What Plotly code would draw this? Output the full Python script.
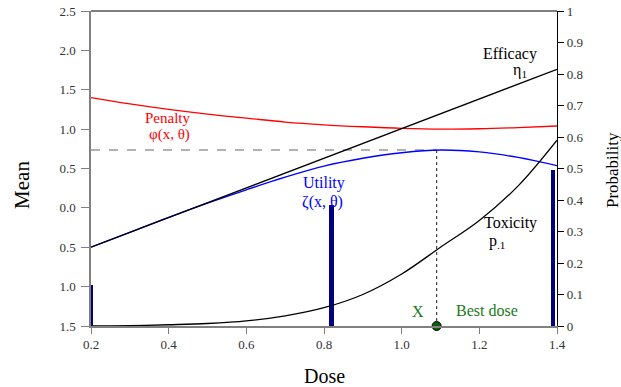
import plotly.graph_objects as go

# ---- data ----
dose = [0.2, 0.3, 0.4, 0.5, 0.6, 0.7, 0.8, 0.9, 1.0, 1.1, 1.2, 1.3, 1.4]
penalty_mean = [1.40, 1.32, 1.25, 1.19, 1.14, 1.09, 1.055, 1.03, 1.01, 1.00, 1.005, 1.02, 1.04]
utility_mean = [-0.50, -0.31, -0.12, 0.06, 0.23, 0.39, 0.53, 0.63, 0.70, 0.735, 0.71, 0.64, 0.535]
toxicity_prob = [0.0, 0.001, 0.004, 0.008, 0.016, 0.032, 0.058, 0.10, 0.165, 0.25, 0.335, 0.445, 0.59]
efficacy_dose = [0.2, 1.4]
efficacy_prob = [0.25, 0.815]
bar_dose = [0.2, 0.82, 1.39]
bar_prob = [0.13, 0.385, 0.495]
best_dose = 1.09
best_utility = 0.735

mean_ticks = [-1.5, -1.0, -0.5, 0.0, 0.5, 1.0, 1.5, 2.0, 2.5]
mean_ticktext = ["1.5", "1.0", "0.5", "0.0", "0.5", "1.0", "1.5", "2.0", "2.5"]
prob_ticks = [0, 0.1, 0.2, 0.3, 0.4, 0.5, 0.6, 0.7, 0.8, 0.9, 1.0]
prob_ticktext = ["0", "0.1", "0.2", "0.3", "0.4", "0.5", "0.6", "0.7", "0.8", "0.9", "1"]
dose_ticks = [0.2, 0.4, 0.6, 0.8, 1.0, 1.2, 1.4]
dose_ticktext = ["0.2", "0.4", "0.6", "0.8", "1.0", "1.2", "1.4"]

SERIF = "Liberation Serif, Times New Roman, serif"
GREEN = "#1a7a1a"

fig = go.Figure()

# reference lines at the best dose
fig.add_trace(go.Scatter(x=[dose[0], best_dose], y=[best_utility, best_utility], mode="lines",
                         line=dict(color="#666666", width=1, dash="dash"), yaxis="y", hoverinfo="skip"))
fig.add_trace(go.Scatter(x=[best_dose, best_dose], y=[best_utility, mean_ticks[0]], mode="lines",
                         line=dict(color="#444444", width=1.2, dash="dot"), yaxis="y", hoverinfo="skip"))

fig.add_trace(go.Scatter(x=dose, y=penalty_mean, mode="lines", line=dict(color="red", width=1.3, shape="spline"), yaxis="y"))
fig.add_trace(go.Scatter(x=dose, y=utility_mean, mode="lines", line=dict(color="blue", width=1.3, shape="spline"), yaxis="y"))
fig.add_trace(go.Scatter(x=efficacy_dose, y=efficacy_prob, mode="lines", line=dict(color="black", width=1.3), yaxis="y2"))
fig.add_trace(go.Scatter(x=dose, y=toxicity_prob, mode="lines", line=dict(color="black", width=1.3, shape="spline"), yaxis="y2"))

fig.add_trace(go.Bar(x=bar_dose, y=bar_prob, width=0.012, marker=dict(color="#000080", line=dict(width=0)), yaxis="y2"))

fig.add_trace(go.Scatter(x=[best_dose], y=[0], mode="markers", yaxis="y2", cliponaxis=False,
                         marker=dict(color="#0b5e0b", size=9, line=dict(color="black", width=1))))

def ann(x, y, text, color, size=16):
    fig.add_annotation(x=x, y=y, xref="x", yref="y", text=text, showarrow=False,
                       font=dict(family=SERIF, size=size, color=color))

ann(0.398, 1.14, "Penalty", "red", 15)
ann(0.403, 0.93, "φ(x, θ)", "red", 15)
ann(0.80, 0.31, "Utility", "blue")
ann(0.797, 0.07, "ζ(x, θ)", "blue")
ann(1.279, 1.96, "Efficacy", "black")
ann(1.305, 1.74, "η<sub>1</sub>", "black")
ann(1.279, -0.19, "Toxicity", "black")
ann(1.245, -0.43, "p<sub>.1</sub>", "black")
ann(1.042, -1.32, "X", GREEN)
ann(1.22, -1.30, "Best dose", GREEN)

# axis titles
def title(x, y, text, size, angle=0):
    fig.add_annotation(x=x, y=y, xref="paper", yref="paper", text=text, showarrow=False,
                       textangle=angle, xanchor="center", yanchor="middle",
                       font=dict(family=SERIF, size=size, color="black"))

title(0.502, -0.159, "Dose", 20)
title(-0.148, 0.448, "Mean", 21, -90)
title(1.118, 0.495, "Probability", 17, -90)

# top frame line
fig.add_shape(type="line", xref="paper", yref="paper", x0=0, x1=1, y0=1, y1=1,
              line=dict(color="black", width=1.2))

fig.update_layout(
    width=621, height=387,
    margin=dict(l=91, r=64, t=11, b=61),
    paper_bgcolor="white", plot_bgcolor="white",
    showlegend=False, bargap=0,
    font=dict(family=SERIF, size=13, color="#333333"),
    xaxis=dict(range=[0.2, 1.4], tickvals=dose_ticks, ticktext=dose_ticktext, automargin=False,
               showgrid=False, zeroline=False, showline=True, linecolor="#808080", linewidth=1.5,
               ticks="outside", ticklen=6, tickcolor="#808080"),
    yaxis=dict(range=[-1.5, 2.5], tickvals=mean_ticks, ticktext=mean_ticktext, automargin=False,
               showgrid=False, zeroline=False, showline=True, linecolor="#808080", linewidth=1.5,
               ticks="outside", ticklen=8, tickcolor="#808080", ticklabelstandoff=3),
    yaxis2=dict(range=[0, 1], tickvals=prob_ticks, ticktext=prob_ticktext, overlaying="y", side="right",
                automargin=False,
                showgrid=False, zeroline=False, showline=True, linecolor="black", linewidth=1.2,
                ticks="outside", ticklen=6, tickcolor="black"),
)

fig.write_html("out.html")
